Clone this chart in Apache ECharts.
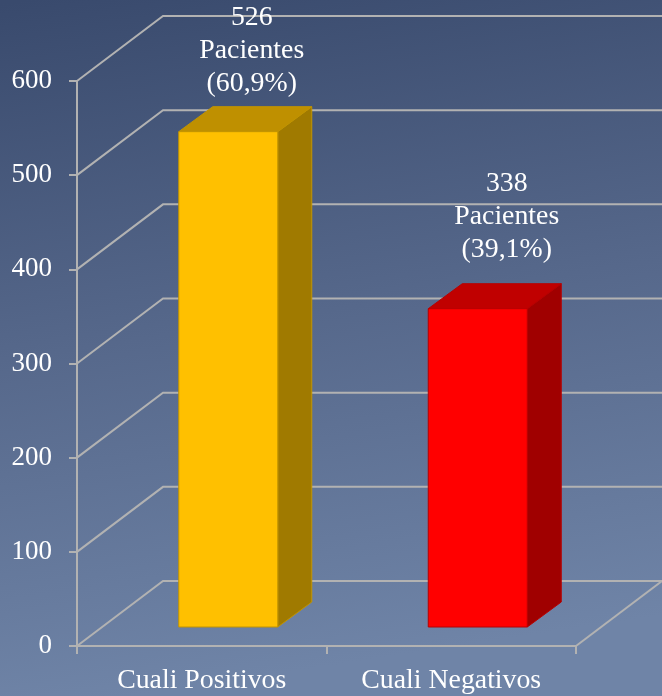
<!DOCTYPE html>
<html><head><meta charset="utf-8">
<style>html,body{margin:0;padding:0;background:#55678a}#c{width:662px;height:696px}</style>
<script src="https://cdn.jsdelivr.net/npm/echarts@6/dist/echarts.min.js"></script>
</head><body><div id="c"></div>
<script>
const categories = ['Cuali Positivos', 'Cuali Negativos'];
const patients = [526, 338];
const shares = ['60,9%', '39,1%'];
const yTicks = [0, 100, 200, 300, 400, 500, 600];
const unit = 'Pacientes';

const FONT = '"Liberation Serif", serif';
const WALL = { dx: 86, dy: -65 };
const BAR = { shiftX: 26.5, shiftY: -19, width: 99, dx: 34, dy: -25 };
const LABEL = { x: [50, 55.5], above: [6, 18] };
const barColors = [
  { front: '#FFC000', top: '#BF9000', side: '#A07A00', edge: '#C29400' },
  { front: '#FF0000', top: '#C00000', side: '#A00000', edge: '#B80000' }
];
const lineColor = '#B2B2B2';

const chart = echarts.init(document.getElementById('c'));
chart.setOption({
  animation: false,
  backgroundColor: new echarts.graphic.LinearGradient(0.04, 0, 0.2, 1, [
    { offset: 0, color: '#394A6D' },
    { offset: 0.5, color: '#56688B' },
    { offset: 1, color: '#6F84A7' }
  ]),
  grid: { left: 77, top: 81, width: 499, height: 565, containLabel: false },
  xAxis: {
    type: 'category', data: categories,
    axisLine: { lineStyle: { color: lineColor, width: 2 } },
    axisTick: { show: true, length: 8, lineStyle: { color: lineColor, width: 2 } },
    axisLabel: { color: '#fff', fontFamily: FONT, fontSize: 27.8, margin: 21, interval: 0 },
    splitLine: { show: false }
  },
  yAxis: {
    type: 'value', min: 0, max: 600, interval: 100,
    axisLine: { show: true, lineStyle: { color: lineColor, width: 2 } },
    axisTick: { show: true, length: 8, lineStyle: { color: lineColor, width: 2 } },
    axisLabel: { color: '#fff', fontFamily: FONT, fontSize: 27, margin: 25, padding: [5, 0, 0, 0] },
    splitLine: { show: false }
  },
  series: [
    {
      type: 'custom', coordinateSystem: 'cartesian2d', clip: false, silent: true, z: 1,
      data: yTicks.map(v => [0, v]),
      encode: { y: 1 },
      renderItem(params, api) {
        const g = params.coordSys;
        const y = api.coord([0, api.value(1)])[1];
        const isFloor = api.value(1) === 0;
        const points = [[g.x, y], [g.x + WALL.dx, y + WALL.dy], [662, y + WALL.dy]];
        const children = [{ type: 'polyline', shape: { points }, style: { stroke: lineColor, lineWidth: 2, fill: null } }];
        if (isFloor) {
          children.push({
            type: 'line',
            shape: { x1: g.x + g.width, y1: y, x2: g.x + g.width + WALL.dx, y2: y + WALL.dy },
            style: { stroke: lineColor, lineWidth: 2 }
          });
        }
        return { type: 'group', children };
      }
    },
    {
      type: 'custom', coordinateSystem: 'cartesian2d', clip: false, silent: true, z: 2,
      data: patients.map((v, i) => [i, v]),
      encode: { x: 0, y: 1 },
      renderItem(params, api) {
        const i = api.value(0), v = api.value(1);
        const c = barColors[i];
        const top = api.coord([i, v]);
        const base = api.coord([i, 0]);
        const l = top[0] + BAR.shiftX - BAR.width / 2;
        const r = l + BAR.width;
        const t = top[1] + BAR.shiftY;
        const b = base[1] + BAR.shiftY;
        const edge = { stroke: c.edge, lineWidth: 1 };
        const poly = (points, fill) => ({ type: 'polygon', shape: { points }, style: { fill, ...edge } });
        return {
          type: 'group',
          children: [
            poly([[r, t], [r + BAR.dx, t + BAR.dy], [r + BAR.dx, b + BAR.dy], [r, b]], c.side),
            poly([[l, t], [l + BAR.dx, t + BAR.dy], [r + BAR.dx, t + BAR.dy], [r, t]], c.top),
            poly([[l, t], [r, t], [r, b], [l, b]], c.front)
          ]
        };
      }
    },
    {
      type: 'custom', coordinateSystem: 'cartesian2d', clip: false, silent: true, z: 3,
      data: patients.map((v, i) => [i, v]),
      encode: { x: 0, y: 1 },
      renderItem(params, api) {
        const i = api.value(0), v = api.value(1);
        const p = api.coord([i, v]);
        return {
          type: 'text',
          style: {
            x: p[0] + LABEL.x[i],
            y: p[1] + BAR.shiftY + BAR.dy - LABEL.above[i],
            text: v + '\n' + unit + '\n(' + shares[i] + ')',
            fill: '#fff',
            font: '27.8px ' + FONT,
            lineHeight: 33,
            align: 'center',
            verticalAlign: 'bottom'
          }
        };
      }
    }
  ]
});
</script></body></html>
